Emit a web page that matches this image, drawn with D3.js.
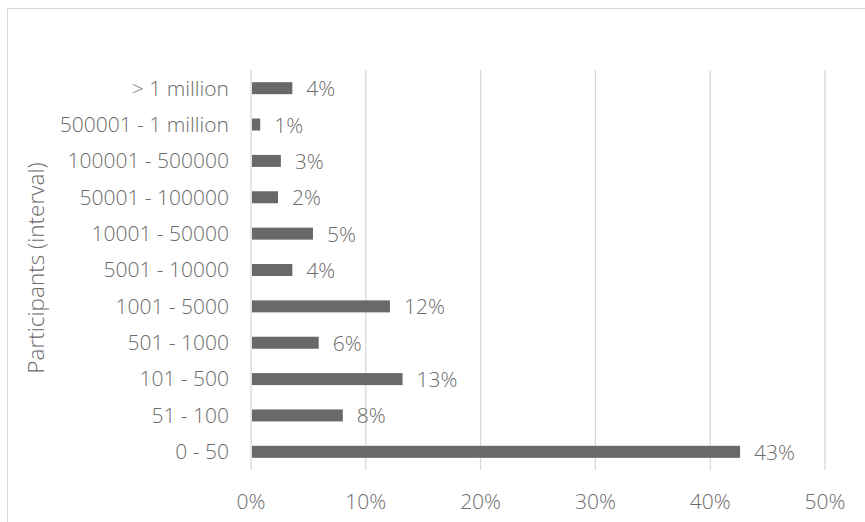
<!DOCTYPE html>
<html>
<head>
<meta charset="utf-8">
<script src="https://cdn.jsdelivr.net/npm/d3@7"></script>
<style>
  body { margin: 0; background: #fff; }
  svg text { font-family: "Open Sans", sans-serif; font-weight: 300; fill: #6b6b6b; }
</style>
</head>
<body>
<div id="chart"></div>
<script>
// categories, top to bottom
var categories = ["> 1 million", "500001 - 1 million", "100001 - 500000", "50001 - 100000",
    "10001 - 50000", "5001 - 10000", "1001 - 5000", "501 - 1000", "101 - 500", "51 - 100", "0 - 50"];
// share of participants (fraction)
var shares = [0.036, 0.008, 0.026, 0.0235, 0.054, 0.036, 0.121, 0.059, 0.132, 0.080, 0.426];
var xTicks = [0, 0.1, 0.2, 0.3, 0.4, 0.5];

var W = 865, H = 522;
const margin = {top: 70, right: 40, bottom: 52, left: 251},
    width = 825 - margin.left,
    height = 470 - margin.top;

const svg = d3.select("#chart").append("svg")
    .attr("width", W).attr("height", H);

// chart border
svg.append("rect")
    .attr("x", 7.5).attr("y", 8.5)
    .attr("width", W + 10).attr("height", H + 10)
    .attr("fill", "none").attr("stroke", "#d9d9d9").attr("stroke-width", 1);

const g = svg.append("g").attr("transform", `translate(${margin.left},${margin.top})`);

var x = d3.scaleLinear().domain([0, 0.5]).range([0, width]);
var y = d3.scaleBand().domain(categories).range([0, height]).paddingInner(0.67).paddingOuter(0.335);

// gridlines
g.selectAll(".grid").data(xTicks).join("line")
    .attr("class", "grid")
    .attr("x1", d => x(d)).attr("x2", d => x(d))
    .attr("y1", 0).attr("y2", height)
    .attr("stroke", "#d9d9d9").attr("stroke-width", 1.3);

// x tick labels
g.selectAll(".xt").data(xTicks).join("text")
    .attr("class", "xt")
    .attr("x", d => x(d)).attr("y", height + 32)
    .attr("dy", "0.35em")
    .attr("text-anchor", "middle")
    .style("font-size", "21px")
    .text(d3.format(".0%"));

// y category labels
g.selectAll(".yt").data(categories).join("text")
    .attr("class", "yt")
    .attr("x", -22).attr("y", d => y(d) + y.bandwidth() / 2)
    .attr("dy", "0.35em")
    .attr("text-anchor", "end")
    .style("font-size", "21px")
    .text(d => d);

// bars
g.selectAll(".bar").data(categories).join("rect")
    .attr("class", "bar")
    .attr("x", x(0) + 1)
    .attr("y", d => y(d))
    .attr("width", (d, i) => x(shares[i]) - x(0) - 1)
    .attr("height", y.bandwidth())
    .attr("fill", "#696969");

// data labels
g.selectAll(".lbl").data(categories).join("text")
    .attr("class", "lbl")
    .attr("x", (d, i) => x(shares[i]) + 14)
    .attr("y", d => y(d) + y.bandwidth() / 2)
    .attr("dy", "0.38em")
    .style("font-size", "21px")
    .text((d, i) => d3.format(".0%")(shares[i]));

// y axis title
svg.append("text")
    .attr("transform", "translate(44,268) rotate(-90)")
    .attr("text-anchor", "middle")
    .style("font-size", "22.5px")
    .text("Participants (interval)");
</script>
</body>
</html>
